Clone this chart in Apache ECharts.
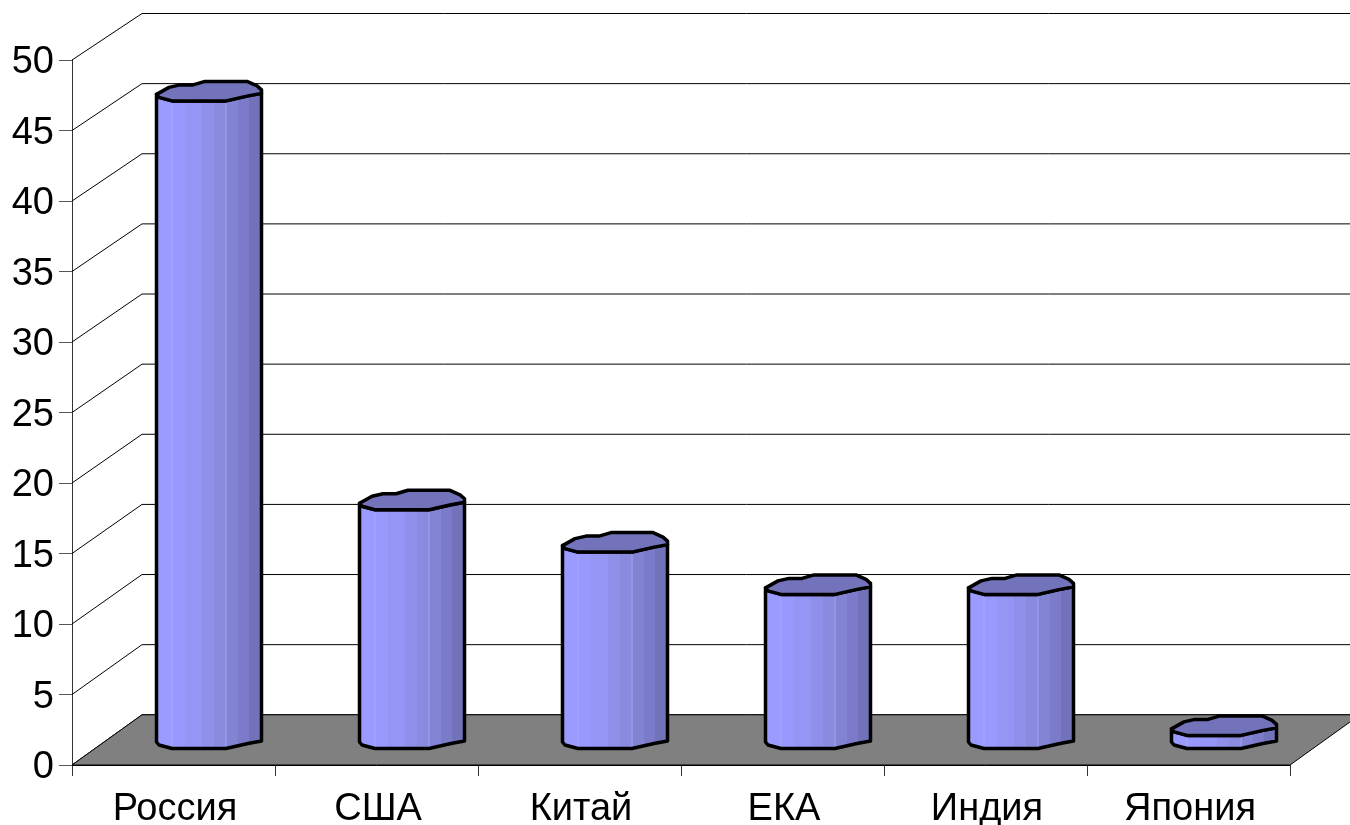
<!DOCTYPE html>
<html><head><meta charset="utf-8">
<style>html,body{margin:0;padding:0;background:#fff}#c{width:1350px;height:825px}</style>
<script src="https://cdn.jsdelivr.net/npm/echarts@6/dist/echarts.min.js"></script>
</head><body><div id="c"></div>
<script>
const categories = ['Россия','США','Китай','ЕКА','Индия','Япония'];
const values = [46,17,14,11,11,1];
const yTicks = [0,5,10,15,20,25,30,35,40,45,50];

const DEPTH_X = 70, DEPTH_Y = -50.2, DEPTH_Y_TOP = 3.7;
const MID_X = 35.5, LID_Y = -25, BASE_Y = -26;
const frontHalf = [[-52.5,3],[-50,6],[-37,9.5],[17,9.5],[39,4.5],[52.5,2]];
const backHalf = [[52.5,-1.5],[48,-5.5],[38,-10],[-4,-10],[-16,-6.5],[-29,-6.5],[-40,-4]];
const facetStops = [[0,'#9b9bff'],[0.14,'#9999fd'],[0.27,'#9595f5'],[0.43,'#9090ea'],[0.55,'#8a8ade'],[0.67,'#8383d4'],[0.78,'#7b7bc9'],[0.88,'#7272bb'],[1,'#7272bb']];

function stepped(stops){
  const out=[];
  stops.forEach((s,i)=>{
    if(i===stops.length-1) return;
    out.push({offset:s[0],color:s[1]});
    out.push({offset:stops[i+1][0],color:s[1]});
  });
  return {type:'linear',x:0,y:0,x2:1,y2:0,global:false,colorStops:out};
}
function backY(api,v){
  return api.coord([0,v])[1]+DEPTH_Y+DEPTH_Y_TOP*v/50;
}
const lineStyle={stroke:'#000',lineWidth:1,fill:null};

function renderWall(params,api){
  const v=api.value(0);
  const cs=params.coordSys;
  const fy=api.coord([0,v])[1], by=backY(api,v);
  return {type:'group',children:[
    {type:'line',shape:{x1:cs.x,y1:fy,x2:cs.x+DEPTH_X,y2:by},style:lineStyle},
    {type:'line',shape:{x1:cs.x+DEPTH_X,y1:by,x2:cs.x+DEPTH_X+cs.width,y2:by},style:lineStyle}
  ]};
}
function renderFloor(params,api){
  const cs=params.coordSys;
  const fy=api.coord([0,0])[1], by=backY(api,0);
  return {type:'polygon',shape:{points:[[cs.x,fy],[cs.x+DEPTH_X,by],[cs.x+DEPTH_X+cs.width,by],[cs.x+cs.width,fy]]},
    style:{fill:'#808080',stroke:'#000',lineWidth:1}};
}
function renderBar(params,api){
  const i=api.value(0), v=api.value(1);
  const top=api.coord([i,v]), base=api.coord([i,0]);
  const cx=top[0]+MID_X, ty=top[1]+LID_Y, by=base[1]+BASE_Y;
  const at=(p,y)=>[cx+p[0],y+p[1]];
  const side=frontHalf.map(p=>at(p,ty)).reverse().concat(frontHalf.map(p=>at(p,by)));
  const lid=frontHalf.concat(backHalf).map(p=>at(p,ty));
  const edge=(dx,color)=>({type:'line',shape:{x1:cx+dx,y1:ty+9.5,x2:cx+dx,y2:by+9.5},style:{stroke:color,lineWidth:1,opacity:0.55}});
  return {type:'group',children:[
    {type:'polygon',shape:{points:side},style:{fill:stepped(facetStops)}},
    edge(-37,'#b4b4ff'),edge(17,'#b4b4ff'),
    {type:'polygon',shape:{points:side},style:{fill:null,stroke:'#000',lineWidth:3.5,lineJoin:'round'}},
    {type:'polygon',shape:{points:lid},style:{fill:'#7373bb',stroke:'#000',lineWidth:3.5,lineJoin:'round'}}
  ]};
}

const font={fontFamily:'"Liberation Sans",Arial,sans-serif',fontSize:38,color:'#000'};
const chart=echarts.init(document.getElementById('c'),null,{renderer:'canvas'});
chart.setOption({
  animation:false,
  backgroundColor:'#fff',
  grid:{left:72,top:60,width:1218,height:705,containLabel:false,outerBoundsMode:'none'},
  xAxis:{type:'category',data:categories,
    axisLine:{show:true,lineStyle:{color:'#000',width:1}},
    axisTick:{show:true,length:11,alignWithLabel:false,lineStyle:{color:'#333',width:1}},
    axisLabel:Object.assign({margin:26,interval:0,padding:[0,0,0,3]},font),
    splitLine:{show:false}},
  yAxis:{type:'value',min:0,max:50,interval:5,
    axisLine:{show:true,lineStyle:{color:'#333',width:1}},
    axisTick:{show:true,length:13,lineStyle:{color:'#555',width:1}},
    axisLabel:Object.assign({margin:18,verticalAlign:'top',padding:[-16,0,0,0]},font),
    splitLine:{show:false}},
  series:[
    {type:'custom',name:'wall',coordinateSystem:'cartesian2d',clip:false,silent:true,z:1,
      data:yTicks.map(t=>[t]),encode:{y:0},renderItem:renderWall},
    {type:'custom',name:'floor',coordinateSystem:'cartesian2d',clip:false,silent:true,z:2,
      data:[[0]],encode:{y:0},renderItem:renderFloor},
    {type:'custom',name:'bars',coordinateSystem:'cartesian2d',clip:false,silent:true,z:3,
      data:values.map((v,i)=>[i,v]),encode:{x:0,y:1},renderItem:renderBar}
  ]
});
</script></body></html>
